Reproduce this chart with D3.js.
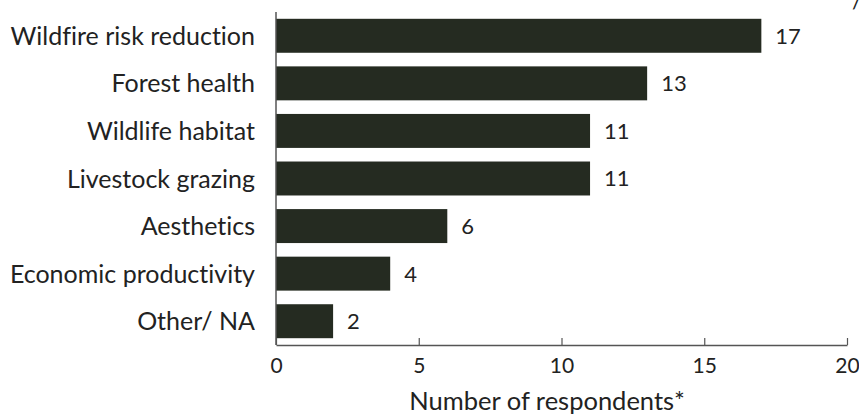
<!DOCTYPE html>
<html>
<head>
<meta charset="utf-8">
<script src="https://cdn.jsdelivr.net/npm/d3@7"></script>
<style>
  html, body { margin: 0; padding: 0; background: #fff; }
  svg text { font-family: "Source Sans Pro", Lato, "Noto Sans", sans-serif; fill: #222;
             font-variant-ligatures: none; font-feature-settings: "liga" 0; }
</style>
</head>
<body>
<svg id="chart" width="859" height="414"></svg>
<script>
// Reasons respondents gave for their land management
const categories = [
  "Wildfire risk reduction",
  "Forest health",
  "Wildlife habitat",
  "Livestock grazing",
  "Aesthetics",
  "Economic productivity",
  "Other/ NA"
];
const counts = [17, 13, 11, 11, 6, 4, 2];
const xTicks = [0, 5, 10, 15, 20];
const xTitle = "Number of respondents*";

const svg = d3.select("#chart");
const plotLeft = 276, plotRight = 847, plotTop = 12, plotBottom = 345;
const barColor = "#252b21";
const axisColor = "#555";
const fontStack = "\"Source Sans Pro\", Lato, \"Noto Sans\", sans-serif";

const x = d3.scaleLinear().domain([0, 20]).range([plotLeft, plotRight]);
const y = d3.scaleBand().domain(categories).range([plotTop, plotBottom])
  .paddingInner(0.286).paddingOuter(0.143);

// bars
svg.append("g").selectAll("rect")
  .data(categories)
  .join("rect")
  .attr("x", x(0))
  .attr("y", d => y(d))
  .attr("width", (d, i) => x(counts[i]) - x(0))
  .attr("height", y.bandwidth())
  .attr("fill", barColor);

// value labels
svg.append("g").selectAll("text")
  .data(categories)
  .join("text")
  .attr("x", (d, i) => x(counts[i]) + 14)
  .attr("y", d => y(d) + y.bandwidth() / 2)
  .attr("dy", "0.36em")
  .attr("font-size", 22)
  .text((d, i) => counts[i]);

// category labels
svg.append("g").selectAll("text")
  .data(categories)
  .join("text")
  .attr("x", plotLeft - 21)
  .attr("y", d => y(d) + y.bandwidth() / 2)
  .attr("dy", "0.36em")
  .attr("text-anchor", "end")
  .attr("font-size", 25)
  .text(d => d);

// y axis line
svg.append("line")
  .attr("x1", plotLeft).attr("x2", plotLeft)
  .attr("y1", plotTop).attr("y2", plotBottom)
  .attr("stroke", axisColor).attr("stroke-width", 1.5);

// x axis with inward ticks
const xAxis = d3.axisBottom(x).tickValues(xTicks).tickSize(-7).tickSizeOuter(0).tickPadding(13);
const gx = svg.append("g").attr("transform", `translate(0,${plotBottom})`).call(xAxis);
gx.select(".domain").attr("stroke", axisColor).attr("stroke-width", 1.5);
gx.selectAll(".tick line").attr("stroke", axisColor).attr("stroke-width", 1.2);
gx.selectAll(".tick text")
  .attr("font-size", 21)
  .attr("font-family", fontStack)
  .attr("fill", "#222");

// axis title
svg.append("text")
  .attr("x", 547)
  .attr("y", 410)
  .attr("text-anchor", "middle")
  .attr("font-size", 25.5)
  .text(xTitle);

// slash mark at the top-right corner
svg.append("text")
  .attr("x", 852)
  .attr("y", 9)
  .attr("font-size", 22)
  .text("/");
</script>
</body>
</html>
